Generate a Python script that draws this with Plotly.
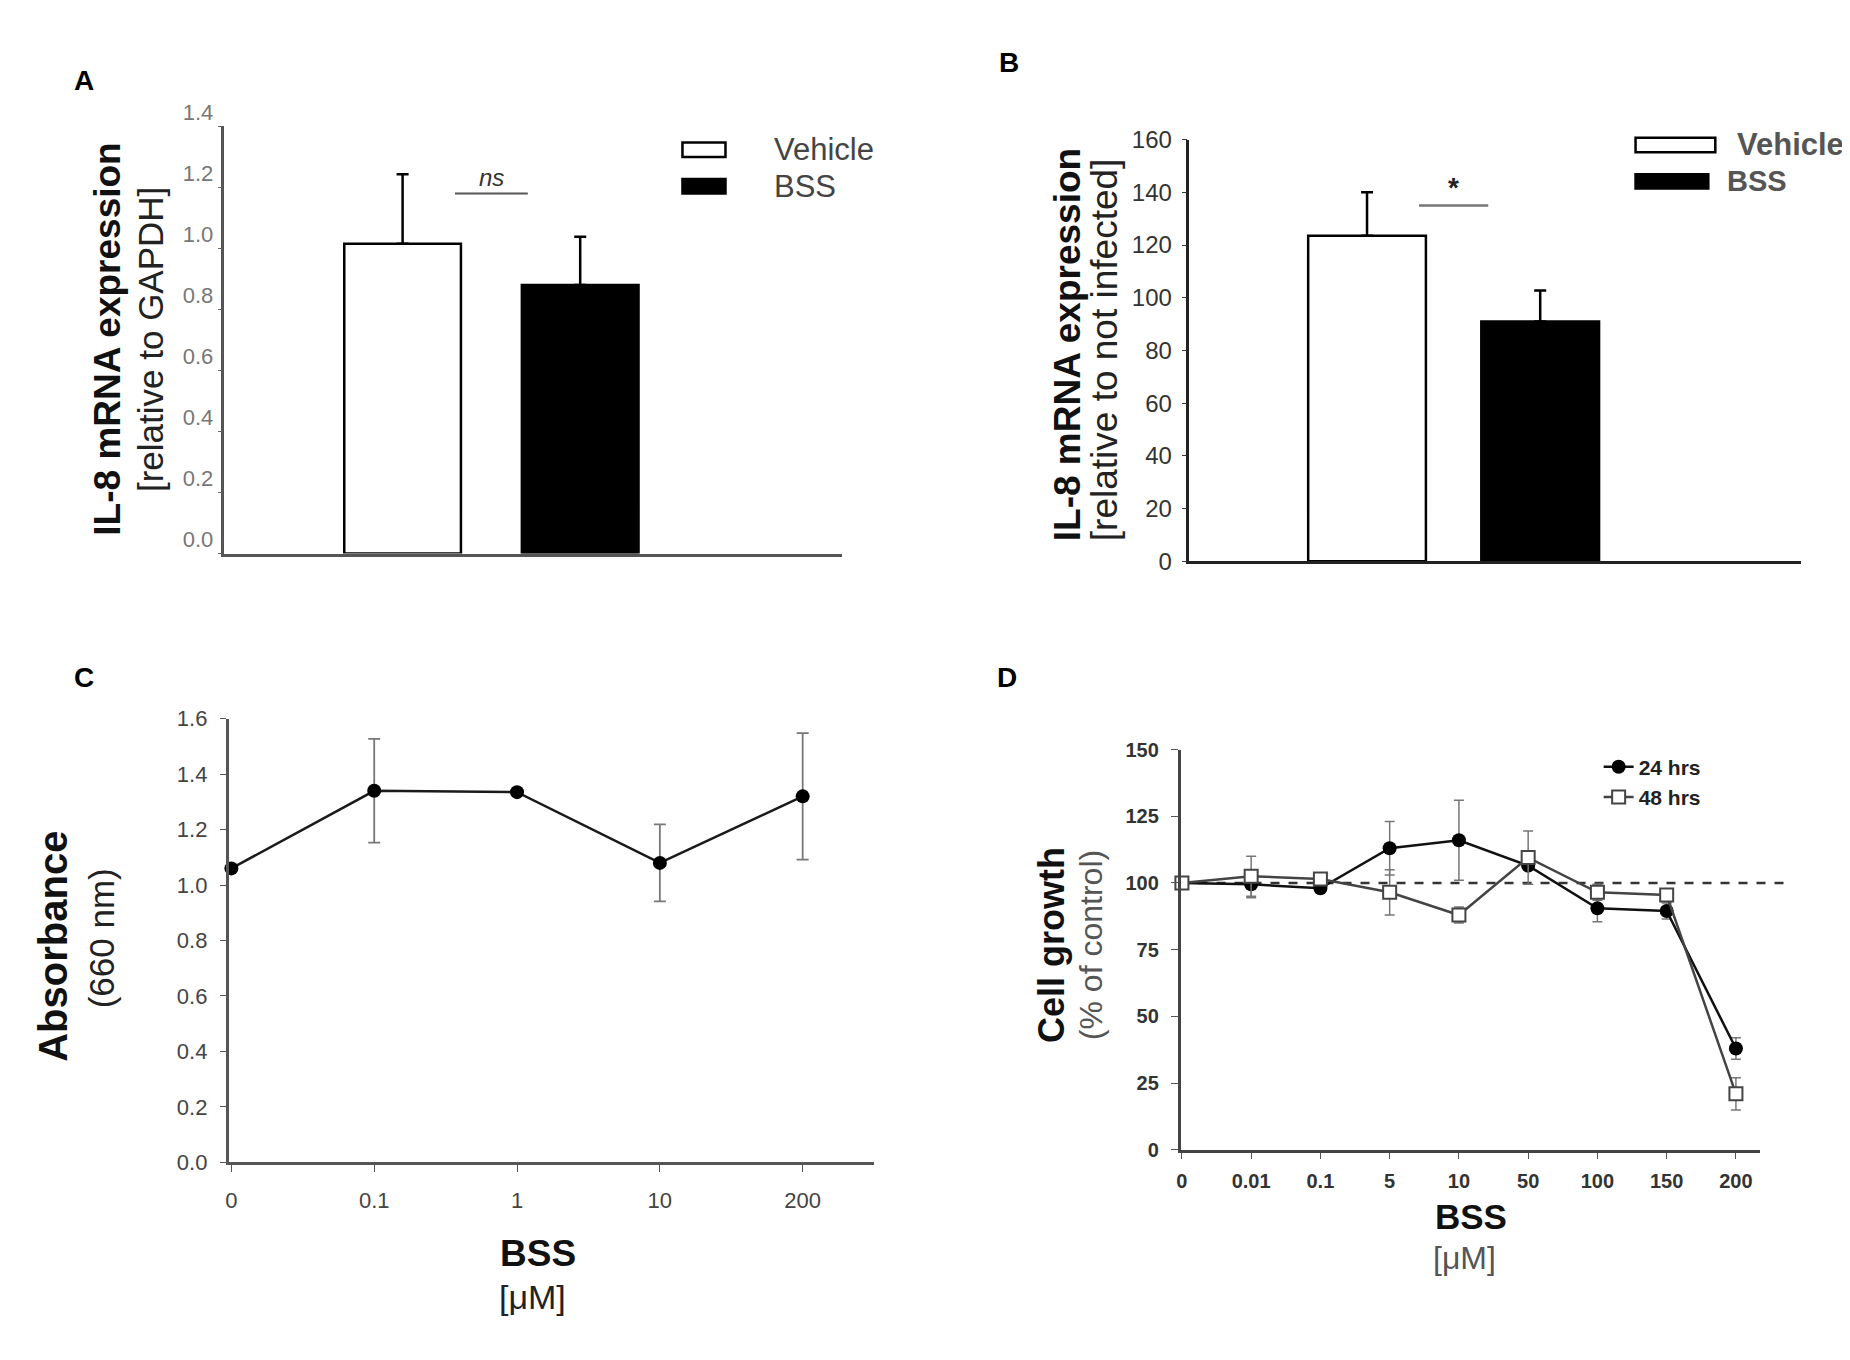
import plotly.graph_objects as go

# panel A - IL-8 relative to GAPDH
groups = ["Vehicle", "BSS"]
gapdh_mean = [1.015, 0.88]
gapdh_err = [0.228, 0.158]
gapdh_ticks = [0.0, 0.2, 0.4, 0.6, 0.8, 1.0, 1.2, 1.4]

# panel B - IL-8 relative to not infected
infected_mean = [123.5, 91]
infected_err = [16.5, 11.7]

# panel C - absorbance
abs_dose = ["0", "0.1", "1", "10", "200"]
abs_mean = [1.06, 1.34, 1.335, 1.08, 1.32]
abs_err = [0, 0.187, 0, 0.139, 0.228]

# panel D - cell growth
growth_dose = ["0", "0.01", "0.1", "5", "10", "50", "100", "150", "200"]
growth_24 = [100, 99.5, 98, 113, 116, 106.5, 90.5, 89.5, 38]
growth_24_err = [0, 5, 0, 10, 15, 0, 5, 3, 4]
growth_48 = [100, 102.5, 101.5, 96.5, 88, 109.5, 96.5, 95.5, 21]
growth_48_err = [0, 7.5, 0, 8.5, 3, 10, 3, 0, 6]

FONT = "Liberation Sans, Arial, sans-serif"

fig = go.Figure()

no_minus = [0] * len(groups)
fig.add_trace(go.Bar(
    x=groups, y=gapdh_mean, xaxis="x", yaxis="y", width=0.657,
    marker=dict(color=["white", "black"], line=dict(color="black", width=2.5)),
    error_y=dict(type="data", array=gapdh_err, arrayminus=no_minus, symmetric=False,
                 color="black", thickness=2.5, width=6),
    showlegend=False))

fig.add_trace(go.Bar(
    x=groups, y=infected_mean, xaxis="x2", yaxis="y2", width=0.68,
    marker=dict(color=["white", "black"], line=dict(color="black", width=2.5)),
    error_y=dict(type="data", array=infected_err, arrayminus=no_minus, symmetric=False,
                 color="black", thickness=2.5, width=6),
    showlegend=False))

fig.add_trace(go.Scatter(
    x=abs_dose, y=abs_mean, xaxis="x3", yaxis="y3", mode="lines+markers",
    line=dict(color="#1a1a1a", width=2.5),
    marker=dict(color="black", size=14),
    error_y=dict(type="data", array=abs_err, color="#777", thickness=1.8, width=6),
    cliponaxis=False, showlegend=False))

fig.add_trace(go.Scatter(
    x=growth_dose, y=growth_24, xaxis="x4", yaxis="y4", mode="lines+markers",
    name="24 hrs", legend="legend3",
    line=dict(color="#111", width=2.5),
    marker=dict(color="black", size=14, symbol="circle"),
    error_y=dict(type="data", array=growth_24_err, color="#777", thickness=1.5, width=5),
    cliponaxis=False))

fig.add_trace(go.Scatter(
    x=growth_dose, y=growth_48, xaxis="x4", yaxis="y4", mode="lines+markers",
    name="48 hrs", legend="legend3",
    line=dict(color="#444", width=2.5),
    marker=dict(color="white", size=13, symbol="square", line=dict(color="#444", width=2)),
    error_y=dict(type="data", array=growth_48_err, color="#777", thickness=1.5, width=5),
    cliponaxis=False))


def axis_lines(color):
    return dict(showline=True, linecolor=color, linewidth=2.5,
                showgrid=False, zeroline=False)


fig.update_layout(
    width=1850, height=1360,
    paper_bgcolor="white", plot_bgcolor="rgba(0,0,0,0)",
    margin=dict(l=0, r=0, t=0, b=0),
    font=dict(family=FONT, color="#222"),
    xaxis=dict(domain=[0.1151, 0.4497], anchor="y", range=[-1.003, 2.475],
               showticklabels=False, ticks="", **axis_lines("#555")),
    yaxis=dict(domain=[0.6029, 0.9301], anchor="x", range=[0, 1.4],
               tickvals=gapdh_ticks,
               # labels sit a little above their tick marks in the original
               ticktext=[f"{v:.1f}<br> " for v in gapdh_ticks],
               ticks="outside", ticklen=4, tickcolor="#666",
               tickfont=dict(size=22, color="#777"), **axis_lines("#555")),
    xaxis2=dict(domain=[0.6378, 0.9692], anchor="y2", range=[-1.026, 2.507],
                showticklabels=False, ticks="", **axis_lines("#222")),
    yaxis2=dict(domain=[0.5971, 0.9199], anchor="x2", range=[0, 160], dtick=20,
                ticks="outside", ticklen=5, tickcolor="#333", ticklabelstandoff=5,
                tickfont=dict(size=24, color="#333"), **axis_lines("#222")),
    xaxis3=dict(domain=[0.1173, 0.4670], anchor="y3", range=[-0.02, 4.5],
                type="category", ticks="outside", ticklen=7, tickcolor="#555",
                ticklabelstandoff=10,
                tickfont=dict(size=22, color="#444"), **axis_lines("#555")),
    yaxis3=dict(domain=[0.1368, 0.4765], anchor="x3", range=[0, 1.6], dtick=0.2,
                tickformat=".1f", ticks="outside", ticklen=6, tickcolor="#555",
                ticklabelstandoff=8,
                tickfont=dict(size=22, color="#444"), **axis_lines("#555")),
    xaxis4=dict(domain=[0.6330, 0.9470], anchor="y4", range=[-0.02, 8.35],
                type="category", ticks="outside", ticklen=6, tickcolor="#555",
                ticklabelstandoff=5,
                tickfont=dict(size=20, color="#333", weight="bold"), **axis_lines("#444")),
    yaxis4=dict(domain=[0.1463, 0.4529], anchor="x4", range=[0, 150], dtick=25,
                ticks="outside", ticklen=7, tickcolor="#555", ticklabelstandoff=8,
                tickfont=dict(size=20, color="#333", weight="bold"), **axis_lines("#444")),
    legend3=dict(x=0.8595, y=0.428, xanchor="left", yanchor="middle",
                 bgcolor="rgba(0,0,0,0)", tracegroupgap=0,
                 font=dict(size=21, color="#222", weight="bold")),
)

# axis titles: text, x, y, size, bold, colour, angle
titles = [
    ("IL-8 mRNA expression", 0.0516, 0.7669, 37, True, "#111", -90),
    ("[relative to GAPDH]", 0.0751, 0.7669, 35, False, "#222", -90),
    ("IL-8 mRNA expression", 0.5715, 0.7632, 37, True, "#111", -90),
    ("[relative to not infected]", 0.5918, 0.7590, 37, False, "#222", -90),
    ("Absorbance", 0.0222, 0.3026, 40, True, "#111", -90),
    ("(660 nm)", 0.0486, 0.3081, 35, False, "#222", -90),
    ("Cell growth", 0.5632, 0.3029, 36, True, "#111", -90),
    ("(% of control)", 0.5849, 0.3029, 32, False, "#555", -90),
    ("BSS", 0.2849, 0.0669, 37, True, "#111", 0),
    ("[μM]", 0.2822, 0.0338, 34, False, "#222", 0),
    ("BSS", 0.7903, 0.0956, 35, True, "#111", 0),
    ("[μM]", 0.7870, 0.0632, 32, False, "#555", 0),
]
for text, tx, ty, size, bold, col, angle in titles:
    fig.add_annotation(xref="paper", yref="paper", x=tx, y=ty, xanchor="center",
                       yanchor="middle", textangle=angle, showarrow=False,
                       text=f"<b>{text}</b>" if bold else text,
                       font=dict(size=size, color=col))

# reference line at 100 % in panel D
fig.add_shape(type="line", xref="x4 domain", yref="y4", x0=0, x1=1.05, y0=100, y1=100,
              line=dict(color="#333", width=2.5, dash="dash"), layer="below")

# significance marks
fig.add_shape(type="line", xref="x", yref="y", x0=0.295, x1=0.705, y0=1.18, y1=1.18,
              line=dict(color="#555", width=2))
fig.add_annotation(xref="x", yref="y", x=0.5, y=1.18, yanchor="bottom", text="<i>ns</i>",
                   showarrow=False, font=dict(size=24, color="#333"))
fig.add_shape(type="line", xref="x2", yref="y2", x0=0.3, x1=0.7, y0=135, y1=135,
              line=dict(color="#777", width=2.5))
fig.add_annotation(xref="x2", yref="y2", x=0.5, y=135, yanchor="bottom", text="<b>*</b>",
                   showarrow=False, font=dict(size=28, color="#222"))

# legends of the bar panels: box x0, x1, y centre, fill, label, label x, size, colour
leg_boxes = [
    (0.3632, 0.3865, 0.9121, "white", "Vehicle", 0.4119, 31, "#444"),
    (0.3632, 0.3865, 0.8842, "black", "BSS", 0.4119, 31, "#444"),
    (0.8795, 0.9227, 0.9158, "white", "<b>Vehicle</b>", 0.9335, 31, "#555"),
    (0.8795, 0.9189, 0.8879, "black", "<b>BSS</b>", 0.9281, 29, "#555"),
]
for x0, x1, yc, fill, label, lx, fs, col in leg_boxes:
    fig.add_shape(type="rect", xref="paper", yref="paper", x0=x0, x1=x1,
                  y0=yc - 0.0055, y1=yc + 0.0055, fillcolor=fill,
                  line=dict(color="black", width=2.5))
    fig.add_annotation(xref="paper", yref="paper", x=lx, y=yc, xanchor="left",
                       yanchor="middle", text=label, showarrow=False,
                       font=dict(size=fs, color=col))

# panel letters
for letter, px, py in [("A", 0.0324, 0.9787), ("B", 0.540, 0.9926),
                       ("C", 0.0324, 0.5081), ("D", 0.5389, 0.5081)]:
    fig.add_annotation(xref="paper", yref="paper", x=px, y=py, text=f"<b>{letter}</b>",
                       showarrow=False, font=dict(size=28, color="black"))

fig.write_html("out.html")
